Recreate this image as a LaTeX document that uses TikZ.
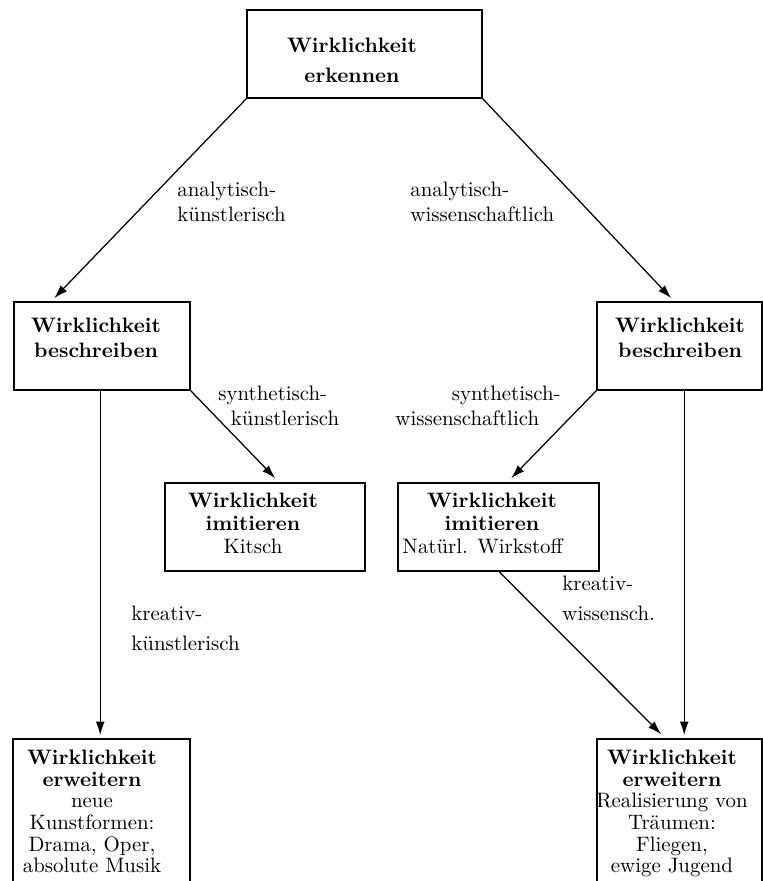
\documentclass[tikz,border=0pt]{standalone}
\usetikzlibrary{arrows.meta,calc,fit}
\begin{document}
\begin{tikzpicture}[x=0.4786pt,y=-0.4786pt,
  box/.style={draw, line width=0.75pt, inner sep=0pt},
  arr/.style={line width=0.6pt, -{Latex[length=6.5pt,width=4.2pt]}},
  txt/.style={inner sep=0pt, align=center},
  lbl/.style={inner sep=0pt, align=left, anchor=north west}]
\clip (0,0) rectangle (763,881);
% boxes
\node[box, fit={(247,10)(482,98)}] (top) {};
\node[box, fit={(14,302)(190,390)}] (lb) {};
\node[box, fit={(597,302)(762,390)}] (rb) {};
\node[box, fit={(165,483)(365,571)}] (li) {};
\node[box, fit={(398,483)(599,571)}] (ri) {};
\node[box, fit={(13,739)(190,900)}] (le) {};
\node[box, fit={(597,739)(762,900)}] (re) {};
% box texts
\node[txt, font=\bfseries\fontsize{10}{14}\selectfont, anchor=north] (toptxt) at (352,38) {Wirklichkeit\\erkennen};
\node[txt, font=\bfseries, anchor=north] (lbtxt) at (96,318) {Wirklichkeit\\beschreiben};
\node[txt, font=\bfseries, anchor=north] (rbtxt) at (680,318) {Wirklichkeit\\beschreiben};
\node[txt, anchor=north, font=\fontsize{10}{11}\selectfont] (litxt) at (253,493) {\textbf{Wirklichkeit}\\\textbf{imitieren}\\Kitsch};
\node[txt, anchor=north, font=\fontsize{10}{11}\selectfont] (ritxt) at (492,493) {\textbf{Wirklichkeit}\\\textbf{imitieren}\\\hspace*{-9pt}Natürl. Wirkstoff};
\node[txt, anchor=north, font=\fontsize{10}{10.3}\selectfont] (letxt) at (92,750)
  {\textbf{Wirklichkeit}\\\textbf{erweitern}\\neue\\Kunstformen:\\Drama, Oper,\\absolute Musik};
\node[txt, anchor=north, font=\fontsize{10}{10.3}\selectfont] (retxt) at (672,750)
  {\textbf{Wirklichkeit}\\\textbf{erweitern}\\Realisierung von\\Träumen:\\Fliegen,\\ewige Jugend};
% connector end points
\coordinate (t1) at ($(lb.north west)+(41,-3)$);
\coordinate (t2) at ($(rb.north west)+(75,-3)$);
\coordinate (t3) at ($(li.north west)+(111,-4)$);
\coordinate (t4) at ($(ri.north west)+(114,-4)$);
\coordinate (s5) at ($(lb.south west)+(87,0)$);
\coordinate (t5) at ($(le.north west)+(88,-3)$);
\coordinate (s6) at ($(rb.south west)+(88,0)$);
\coordinate (t6) at ($(re.north west)+(88,-3)$);
\coordinate (s7) at ($(ri.south west)+(102,0)$);
\coordinate (t7) at ($(re.north west)+(65,-4)$);
% connectors
\draw[arr] (top.south west) -- (t1);
\draw[arr] (top.south east) -- (t2);
\draw[arr] (lb.south east) -- (t3);
\draw[arr] (rb.south west) -- (t4);
\draw[arr] (s5) -- (t5);
\draw[arr] (s6) -- (t6);
\draw[arr] (s7) -- (t7);
% labels
\node[lbl] (l1) at (177,182) {analytisch-\\künstlerisch};
\node[lbl] (l2) at (410,182) {analytisch-\\wissenschaftlich};
\node[lbl] (l3) at (218,386) {synthetisch-\\\hspace*{6pt}künstlerisch};
\node[lbl] (l4) at (395,386) {\hspace*{27pt}synthetisch-\\wissenschaftlich};
\node[lbl, align=left, font=\fontsize{10}{14}\selectfont] (l5) at (131,606) {kreativ-\\künstlerisch};
\node[lbl, align=left, font=\fontsize{10}{14}\selectfont] (l6) at (562,576) {kreativ-\\wissensch.};
\end{tikzpicture}
\end{document}
